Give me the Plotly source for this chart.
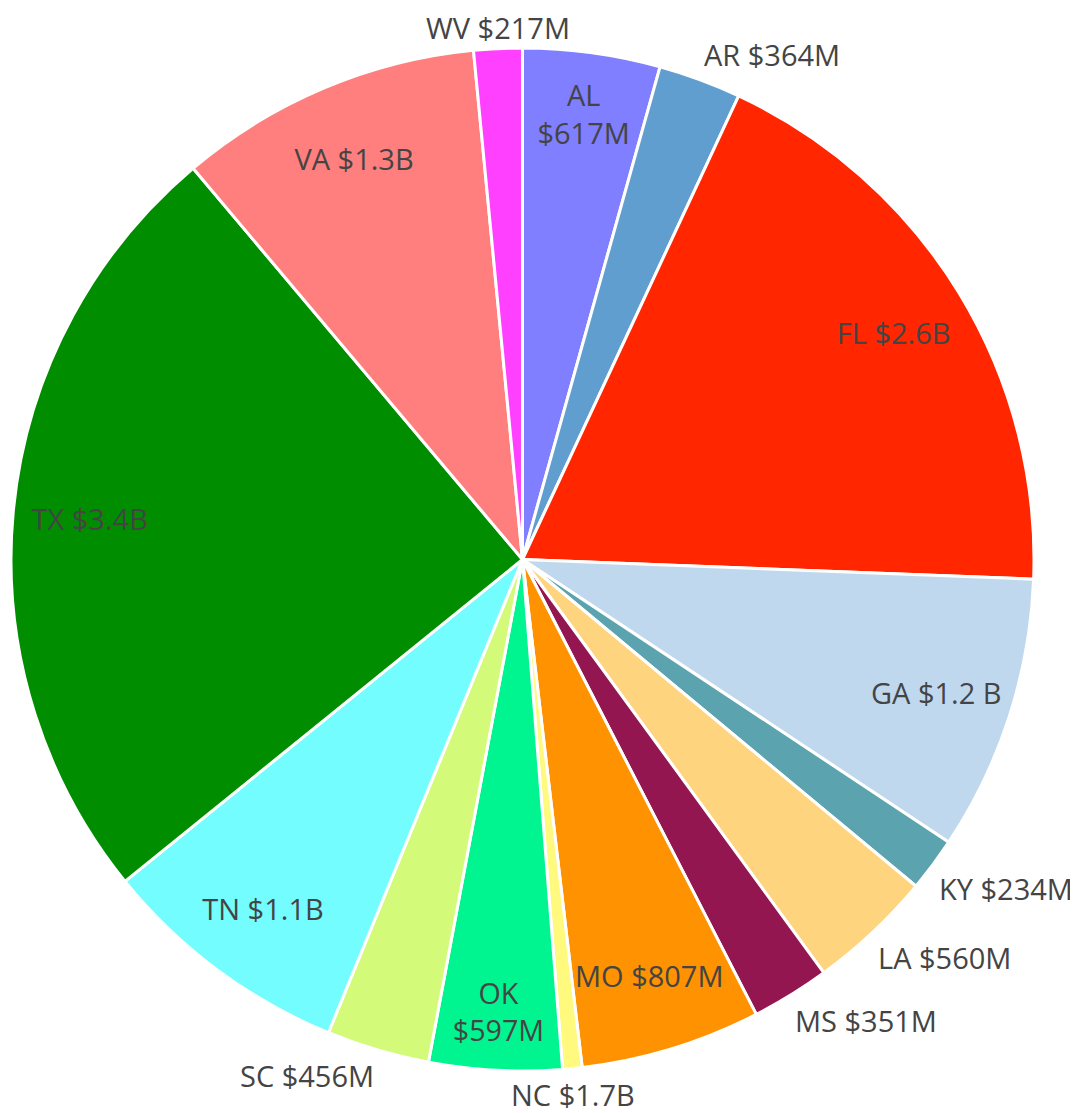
import math
import plotly.graph_objects as go

states = ["AL", "AR", "FL", "GA", "KY", "LA", "MS", "MO", "NC", "OK", "SC", "TN", "TX", "VA", "WV"]
amounts = ["$617M", "$364M", "$2.6B", "$1.2 B", "$234M", "$560M", "$351M", "$807M",
           "$1.7B", "$597M", "$456M", "$1.1B", "$3.4B", "$1.3B", "$217M"]
# slice sizes (share of the circle, in degrees)
shares = [15.6, 9.4, 67.2, 31.35, 6.15, 14.2, 8.9, 20.5, 2.2, 15.1, 11.7, 28.7, 88.9, 34.6, 5.5]
two_line = ["AL", "OK"]
inside_states = ["AL", "FL", "GA", "MO", "OK", "TN", "TX", "VA"]
colors = ["#7F7FFF", "#619ED0", "#FF2600", "#C0D8EE", "#5BA3AE", "#FFD47F", "#931650", "#FF9200",
          "#FFF97D", "#00F590", "#D4FA7A", "#73FDFF", "#008E00", "#FF7F7F", "#FF40FF"]

texts = [f"{s}<br>{a}" if s in two_line else f"{s} {a}" for s, a in zip(states, amounts)]
inside_pos = ["inside" if s in inside_states else "none" for s in states]

FONT = dict(family="Open Sans, sans-serif", size=29, color="#444")

fig = go.Figure()
# coloured slices
fig.add_trace(go.Pie(
    labels=states, values=shares, text=texts,
    textinfo="none",
    sort=False, direction="clockwise", rotation=0,
    marker=dict(colors=colors, line=dict(color="white", width=3)),
    hoverinfo="label+text",
))
# transparent ring carrying the inside labels (pushes them toward the rim)
fig.add_trace(go.Pie(
    labels=states, values=shares, text=texts,
    textinfo="text", textposition=inside_pos,
    insidetextorientation="horizontal",
    hole=0.7,
    sort=False, direction="clockwise", rotation=0,
    marker=dict(colors=["rgba(0,0,0,0)"] * len(states), line=dict(width=0)),
    textfont=FONT, insidetextfont=FONT,
    hoverinfo="skip",
))

# outside labels: anchored just beyond the rim on each slice's mid-angle
total = sum(shares)
label_r = 0.5044  # in paper units; pie radius is 0.5
cum = 0.0
annotations = []
for s, v, t in zip(states, shares, texts):
    mid = math.radians((cum + v / 2) / total * 360.0)
    cum += v
    if s in inside_states:
        continue
    sx, cy = math.sin(mid), math.cos(mid)
    xanchor = "center" if abs(sx) < 0.2 else ("left" if sx > 0 else "right")
    yanchor = "bottom" if cy > 0 else "top"
    yshift = -5 if (xanchor == "center" and yanchor == "bottom") else 0
    annotations.append(dict(
        x=0.5 + label_r * sx, y=0.5 + label_r * cy,
        xref="paper", yref="paper", text=t, showarrow=False,
        xanchor=xanchor, yanchor=yanchor, yshift=yshift, font=FONT,
    ))

fig.update_layout(
    width=1078, height=1113,
    margin=dict(l=3, r=52, t=40, b=50),
    showlegend=False,
    paper_bgcolor="white",
    font=dict(family="Open Sans, sans-serif", color="#444"),
    annotations=annotations,
)
fig.write_html("out.html")
